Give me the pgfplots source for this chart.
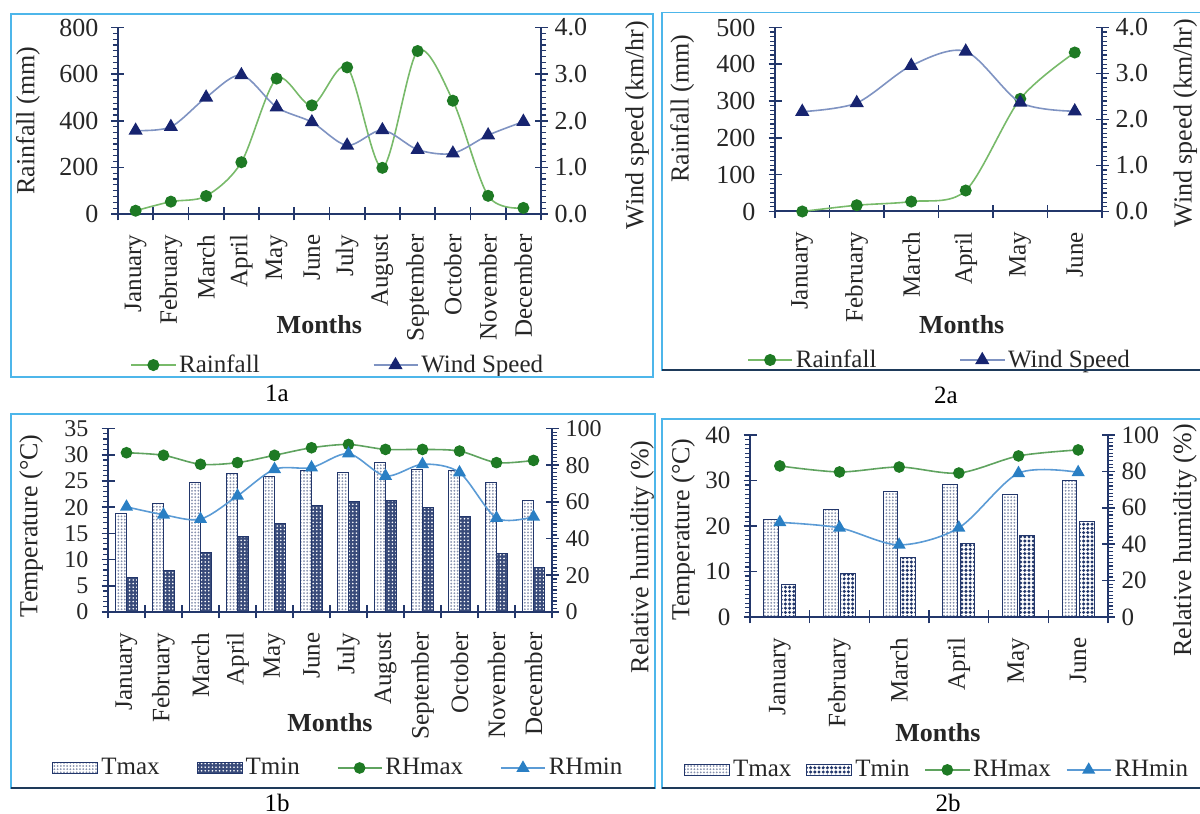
\documentclass[border=0pt]{standalone}
\usepackage{fontspec}
\setmainfont{Liberation Serif}
\usepackage{pgfplots}
\pgfplotsset{compat=1.18}
\usetikzlibrary{patterns,patterns.meta}
\definecolor{navy}{HTML}{23376B}
\definecolor{tickc}{HTML}{262626}
\definecolor{rainl}{HTML}{78BA6A}
\definecolor{rainm}{HTML}{1E7A24}
\definecolor{windl}{HTML}{7F93C2}
\definecolor{windm}{HTML}{172470}
\definecolor{rhminl}{HTML}{5B9BD5}
\definecolor{rhminm}{HTML}{2A7FC4}
\definecolor{rhmaxl}{HTML}{5FA35F}
\definecolor{framec}{HTML}{4DB6EA}
\definecolor{framed}{HTML}{1E3A5A}

\pgfplotsset{
  base/.style={
    scale only axis, clip=false,
    axis line style={-, draw=navy, line width=1pt},
    tick align=center,
    major tick length=6.5pt, minor tick length=2.5pt,
    tick style={draw=navy, line width=0.8pt},
    /pgf/number format/assume math mode=true,
    tick label style={font=\fontsize{13}{15}\selectfont, text=tickc},
    label style={font=\fontsize{13}{15}\selectfont, text=tickc},
  },
  leftax/.style={axis y line*=left, minor tick style={line width=0.6pt, xshift=-1.25pt},
    yticklabel style={xshift=-3pt}},
  rightax/.style={axis y line*=right, axis x line=none, minor tick style={line width=0.6pt, xshift=1.25pt}},
  months12/.style={axis x line*=bottom, xmin=0.5, xmax=12.5,
    xtick={0.5,1.5,...,12.5},
    xticklabels={January,February,March,April,May,June,July,August,September,October,November,December},
    x tick label as interval,
    xticklabel style={rotate=90, anchor=east, xshift=-3.5pt, font=\fontsize{12.5}{14}\selectfont}},
  months6/.style={axis x line*=bottom, xmin=0.5, xmax=6.5,
    xtick={0.5,1.5,...,6.5},
    xticklabels={January,February,March,April,May,June},
    x tick label as interval,
    xticklabel style={rotate=90, anchor=east, xshift=-3.5pt, font=\fontsize{12.5}{14}\selectfont}},
  linelegend/.style={legend image code/.code={\draw[mark repeat=2,mark phase=2,##1] plot coordinates {(0pt,0pt) (11pt,0pt) (22pt,0pt)};}},
  barlegend/.style={legend image code/.code={\draw[##1] (0pt,-2.6pt) rectangle (22.5pt,2.6pt);}},
  rain/.style={color=rainl, line width=0.8pt, smooth, mark=*, mark size=2.6pt, mark options={solid, fill=rainm, draw=rainm}, linelegend},
  wind/.style={color=windl, line width=0.8pt, smooth, mark=triangle*, mark size=3.3pt, mark options={solid, fill=windm, draw=windm}, linelegend},
  rhmax/.style={color=rhmaxl, line width=0.8pt, smooth, mark=*, mark size=2.5pt, mark options={solid, fill=rainm, draw=rainm}, linelegend},
  rhmin/.style={color=rhminl, line width=0.8pt, smooth, mark=triangle*, mark size=3pt, mark options={solid, fill=rhminm, draw=rhminm}, linelegend},
  tmaxA/.style={draw=navy, line width=0.5pt, fill=white, postaction={pattern={Dots[distance=1.6pt, radius=0.5pt]}, pattern color=navy!55}, barlegend},
  tminA/.style={draw=navy, line width=0.5pt, fill=navy!90, postaction={pattern={Dots[distance=1.8pt, radius=0.45pt]}, pattern color=white}, barlegend},
  tminB/.style={draw=navy, line width=0.5pt, fill=white, postaction={pattern={Dots[distance=2.1pt, radius=0.85pt]}, pattern color=navy}, barlegend},
  leg/.style={legend style={at={#1}, anchor=center, draw=none, fill=none, legend columns=-1,
    font=\fontsize{12.5}{14}\selectfont, text=tickc, nodes={inner sep=1.5pt}}},
}

\begin{document}
\begin{tikzpicture}
\useasboundingbox (0,0) rectangle (600pt,407pt);

% ---------------- 1a ----------------
\begin{axis}[base, leftax, months12, at={(59pt,300pt)}, anchor=south west,
  width=211.5pt, height=93.25pt,
  ymin=0, ymax=800, ytick={0,200,...,800}, minor y tick num=7,
  ylabel={Rainfall (mm)}, ylabel style={at={(axis description cs:-0.213,0.5)}, anchor=center},
  xlabel={\bfseries Months}, xlabel style={at={(axis description cs:0.476,-0.595)}, anchor=center}]
\addplot[rain] coordinates {(1,14) (2,53) (3,77) (4,222) (5,581) (6,466) (7,629) (8,198) (9,699) (10,486) (11,78) (12,26)};
\end{axis}
\begin{axis}[base, rightax, at={(59pt,300pt)}, anchor=south west,
  width=211.5pt, height=93.25pt, xmin=0.5, xmax=12.5,
  ymin=0, ymax=4, ytick={0,1,...,4}, minor y tick num=7,
  yticklabel style={/pgf/number format/.cd, fixed, fixed zerofill, precision=1},
  ylabel={Wind speed (km/hr)}, ylabel style={at={(axis description cs:1.227,0.477)}, anchor=center},
  leg={(axis description cs:0.521,-0.81)},
  legend style={/tikz/every even column/.append style={column sep=55pt}}]
\addlegendimage{rain}\addlegendentry{Rainfall}
\addplot[wind] coordinates {(1,1.79) (2,1.87) (3,2.5) (4,2.98) (5,2.29) (6,1.97) (7,1.47) (8,1.8) (9,1.38) (10,1.3) (11,1.69) (12,1.98)};
\addlegendentry{Wind Speed}
\end{axis}

% ---------------- 2a ----------------
\begin{axis}[base, leftax, months6, at={(387.5pt,301.25pt)}, anchor=south west,
  width=163.5pt, height=92pt,
  ymin=0, ymax=500, ytick={0,100,...,500}, minor y tick num=7,
  ylabel={Rainfall (mm)}, ylabel style={at={(axis description cs:-0.284,0.56)}, anchor=center},
  xlabel={\bfseries Months}, xlabel style={at={(axis description cs:0.571,-0.617)}, anchor=center}]
\addplot[rain] coordinates {(1,0) (2,17) (3,27) (4,57) (5,306) (6,432)};
\end{axis}
\begin{axis}[base, rightax, at={(387.5pt,301.25pt)}, anchor=south west,
  width=163.5pt, height=92pt, xmin=0.5, xmax=6.5,
  ymin=0, ymax=4, ytick={0,1,...,4}, minor y tick num=9,
  yticklabel style={/pgf/number format/.cd, fixed, fixed zerofill, precision=1},
  ylabel={Wind speed (km/hr)}, ylabel style={at={(axis description cs:1.255,0.48)}, anchor=center},
  leg={(axis description cs:0.505,-0.807)},
  legend style={/tikz/every even column/.append style={column sep=40pt}}]
\addlegendimage{rain}\addlegendentry{Rainfall}
\addplot[wind] coordinates {(1,2.17) (2,2.36) (3,3.17) (4,3.48) (5,2.37) (6,2.18)};
\addlegendentry{Wind Speed}
\end{axis}

% ---------------- 1b ----------------
\begin{axis}[base, leftax, months12, at={(54pt,101pt)}, anchor=south west,
  width=222pt, height=91.75pt,
  ymin=0, ymax=35, ytick={0,5,...,35}, minor y tick num=4,
  tick label style={font=\fontsize{12}{14}\selectfont},
  xticklabel style={font=\fontsize{12.5}{14}\selectfont},
  ylabel={Temperature (°C)}, ylabel style={at={(axis description cs:-0.173,0.47)}, anchor=center},
  xlabel={\bfseries Months}, xlabel style={at={(axis description cs:0.5,-0.605)}, anchor=center}]
\addplot[ybar, bar width=5.5pt, bar shift=-2.75pt, tmaxA] coordinates {(1,18.7) (2,20.7) (3,24.7) (4,26.4) (5,25.9) (6,26.9) (7,26.7) (8,28.6) (9,27.2) (10,26.9) (11,24.7) (12,21.2)};
\addplot[ybar, bar width=5.5pt, bar shift=2.75pt, tminA] coordinates {(1,6.5) (2,7.9) (3,11.4) (4,14.4) (5,16.9) (6,20.4) (7,21.0) (8,21.2) (9,19.9) (10,18.2) (11,11.1) (12,8.4)};
\end{axis}
\begin{axis}[base, rightax, at={(54pt,101pt)}, anchor=south west,
  width=222pt, height=91.75pt, xmin=0.5, xmax=12.5,
  ymin=0, ymax=100, ytick={0,20,...,100}, minor y tick num=9,
  tick label style={font=\fontsize{12}{14}\selectfont},
  ylabel={Relative humidity (\%)}, ylabel style={at={(axis description cs:1.203,0.30)}, anchor=center},
  leg={(axis description cs:0.52,-0.85)},
  legend style={/tikz/every even column/.append style={column sep=17pt}}]
\addlegendimage{tmaxA}\addlegendentry{Tmax}
\addlegendimage{tminA}\addlegendentry{Tmin}
\addplot[rhmax] coordinates {(1,86.8) (2,85.4) (3,80.5) (4,81.4) (5,85.4) (6,89.5) (7,91.3) (8,88.6) (9,88.6) (10,87.7) (11,81.4) (12,82.6)};
\addlegendentry{RHmax}
\addplot[rhmin] coordinates {(1,57.3) (2,53) (3,50.6) (4,63.3) (5,77.8) (6,78.7) (7,86.3) (8,74.1) (9,80.5) (10,76) (11,51.2) (12,51.9)};
\addlegendentry{RHmin}
\end{axis}

% ---------------- 2b ----------------
\begin{axis}[base, leftax, months6, at={(375pt,98.5pt)}, anchor=south west,
  width=179pt, height=91pt,
  ymin=0, ymax=40, ytick={0,10,...,40}, minor y tick num=9,
  tick label style={font=\fontsize{12.5}{14}\selectfont},
  ylabel={Temperature (°C)}, ylabel style={at={(axis description cs:-0.187,0.48)}, anchor=center},
  xlabel={\bfseries Months}, xlabel style={at={(axis description cs:0.525,-0.637)}, anchor=center}]
\addplot[ybar, bar width=7.25pt, bar shift=-4.3pt, tmaxA] coordinates {(1,21.5) (2,23.7) (3,27.6) (4,29.1) (5,27) (6,29.9)};
\addplot[ybar, bar width=7.25pt, bar shift=4.3pt, tminB] coordinates {(1,7.2) (2,9.5) (3,13) (4,16.2) (5,18) (6,21)};
\end{axis}
\begin{axis}[base, rightax, at={(375pt,98.5pt)}, anchor=south west,
  width=179pt, height=91pt, xmin=0.5, xmax=6.5,
  ymin=0, ymax=100, ytick={0,20,...,100}, minor y tick num=9,
  tick label style={font=\fontsize{12.5}{14}\selectfont},
  ylabel={Relative humidity (\%)}, ylabel style={at={(axis description cs:1.215,0.42)}, anchor=center},
  leg={(axis description cs:0.524,-0.84)},
  legend style={/tikz/every even column/.append style={column sep=6pt}}]
\addlegendimage{tmaxA}\addlegendentry{Tmax}
\addlegendimage{tminB}\addlegendentry{Tmin}
\addplot[rhmax] coordinates {(1,83) (2,79.7) (3,82.4) (4,79.1) (5,88.5) (6,91.8)};
\addlegendentry{RHmax}
\addplot[rhmin] coordinates {(1,52) (2,49) (3,39.6) (4,49) (5,79) (6,79.5)};
\addlegendentry{RHmin}
\end{axis}

% frames and captions
\draw[framec, line width=0.8pt] (5.5pt,218.5pt) rectangle (326.5pt,400pt);
\draw[framec, line width=0.8pt] (331pt,222pt) rectangle (610pt,400.75pt);
\draw[framed, line width=1.4pt] (331pt,222pt) -- (610pt,222pt);
\draw[framec, line width=0.8pt] (5.5pt,13pt) rectangle (327.5pt,200pt);
\draw[framed, line width=1.4pt] (5.5pt,13pt) -- (327.5pt,13pt);
\draw[framec, line width=0.8pt] (331pt,13pt) rectangle (610pt,197.5pt);
\draw[framed, line width=1.4pt] (331pt,13pt) -- (610pt,13pt);
\node[font=\fontsize{12.5}{14}\selectfont] at (138.5pt,210.5pt) {1a};
\node[font=\fontsize{12.5}{14}\selectfont] at (473pt,209.5pt) {2a};
\node[font=\fontsize{12.5}{14}\selectfont, inner sep=1pt] at (138.5pt,5.5pt) {1b};
\node[font=\fontsize{12.5}{14}\selectfont, inner sep=1pt] at (474pt,5.5pt) {2b};
\end{tikzpicture}
\end{document}
